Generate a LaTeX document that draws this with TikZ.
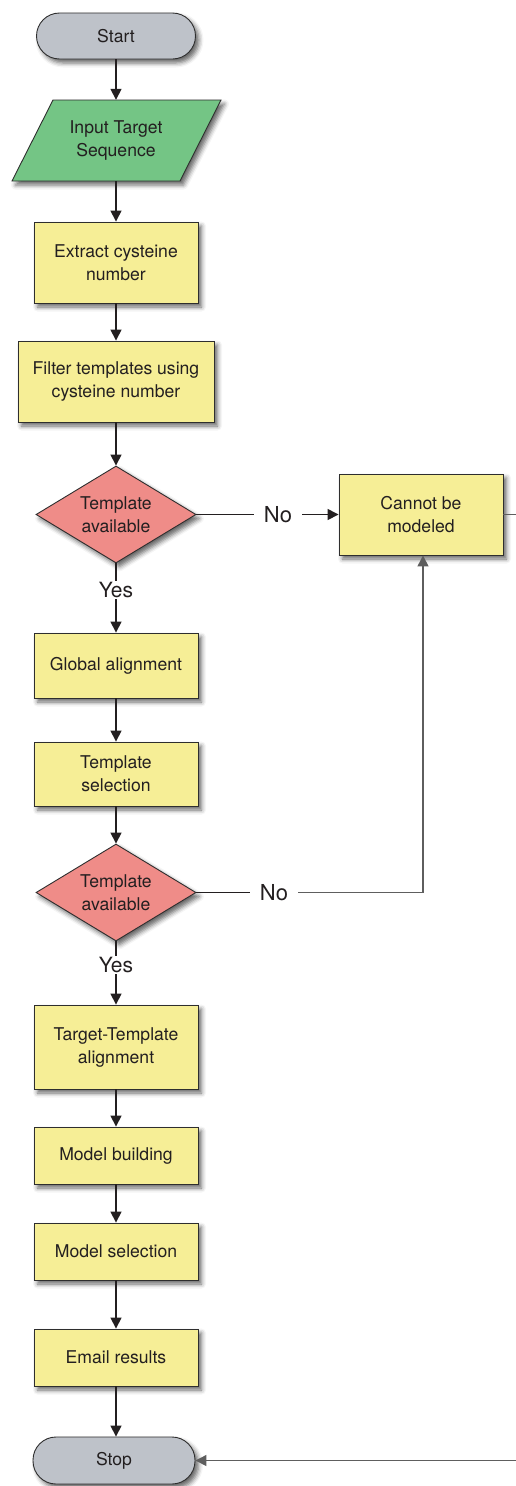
\documentclass[tikz,border=0pt]{standalone}
\usepackage{fontspec}
\setmainfont{TeX Gyre Heros}
\usetikzlibrary{arrows.meta,shapes.geometric,shadows.blur}
\definecolor{boxyellow}{HTML}{F6EE96}
\definecolor{ingreen}{HTML}{74C585}
\definecolor{decpink}{HTML}{EF8C88}
\definecolor{termgray}{HTML}{BEC2C9}
\definecolor{edgedark}{HTML}{2E2E2E}
\definecolor{txt}{HTML}{231F20}
\definecolor{backline}{HTML}{5E5E5E}
\begin{document}
\begin{tikzpicture}[x=1pt,y=-1pt,
  shade/.style={blur shadow={shadow xshift=3.5pt,shadow yshift=-4pt,shadow blur radius=4.5pt,shadow opacity=60}},
  basefont/.style={font=\fontsize{17.6}{23}\selectfont, text=txt, align=center},
  procbox/.style={basefont, shade, draw=edgedark, line width=0.9pt, fill=boxyellow, inner sep=0pt},
  termbox/.style={basefont, shade, draw=edgedark, line width=0.9pt, fill=termgray, rounded corners=23pt, inner sep=0pt},
  decbox/.style={basefont, shade, draw=edgedark, line width=0.9pt, fill=decpink, shape=diamond, aspect=1.65, inner sep=0pt, minimum width=160pt, minimum height=97pt},
  lbl/.style={font=\fontsize{22}{26}\selectfont, text=txt, inner xsep=10pt, inner ysep=1pt},
  ylbl/.style={font=\fontsize{21}{25}\selectfont, text=txt, inner xsep=2pt, inner ysep=1pt},
  flow/.style={draw=txt, line width=1.5pt, -{Triangle[length=11pt,width=11pt]}},
  plain/.style={draw=txt, line width=1.5pt},
  backarrow/.style={draw=backline, line width=1.3pt, -{Triangle[length=11pt,width=11pt]}}
]
\useasboundingbox (0,0) rectangle (515,1486);

% nodes
\node[termbox, minimum width=159pt, minimum height=46pt] (start) at (116,36) {Start};

\path[shade, fill=ingreen, draw=edgedark, line width=0.9pt]
  (53,100) -- (221,100) -- (180,181) -- (12,181) -- cycle;
\node[basefont, inner sep=0pt, minimum width=120pt, minimum height=81pt] (input) at (116,140.5) {Input Target\\Sequence};

\node[procbox, minimum width=164pt, minimum height=81pt] (box1) at (116,262.5) {Extract cysteine\\number};
\node[procbox, minimum width=196pt, minimum height=81pt] (box2) at (116,381.5) {Filter templates using\\cysteine number};
\node[decbox] (d1) at (116,514.5) {Template\\available};
\node[procbox, minimum width=164pt, minimum height=81pt] (cannot) at (421,514.5) {Cannot be\\modeled};
\node[lbl] (no1) at (278,514.5) {No};
\node[ylbl] (yes1) at (116,590) {Yes};
\node[procbox, minimum width=164pt, minimum height=65pt] (glob) at (116,665.5) {Global alignment};
\node[procbox, minimum width=164pt, minimum height=64pt] (tsel) at (116,774) {Template\\selection};
\node[decbox] (d2) at (116,892.5) {Template\\available};
\node[lbl] (no2) at (274,892.5) {No};
\node[ylbl] (yes2) at (116,965) {Yes};
\node[procbox, minimum width=164pt, minimum height=84pt] (tta) at (116,1047) {Target-Template\\alignment};
\node[procbox, minimum width=164pt, minimum height=57pt] (mb) at (116,1155.5) {Model building};
\node[procbox, minimum width=164pt, minimum height=57pt] (ms) at (116,1251.5) {Model selection};
\node[procbox, minimum width=164pt, minimum height=57pt] (em) at (116,1357.5) {Email results};
\node[termbox, minimum width=162pt, minimum height=47pt] (stop) at (114,1460.5) {Stop};

\coordinate (r1) at (522,514.5);
\coordinate (r2) at (522,1460.5);

% connectors
\draw[flow] (start.south) -- (input.north);
\draw[flow] (input.south) -- (box1.north);
\draw[flow] (box1.south) -- (box2.north);
\draw[flow] (box2.south) -- (d1.north);
\draw[plain] (d1.east) -- (no1.west);
\draw[flow] (no1.east) -- (cannot.west);
\draw[plain] (d1.south) -- (yes1.north);
\draw[flow] (yes1.south) -- (glob.north);
\draw[flow] (glob.south) -- (tsel.north);
\draw[flow] (tsel.south) -- (d2.north);
\draw[plain] (d2.east) -- (no2.west);
\draw[backarrow] (no2.east) -| ([xshift=2pt]cannot.south);
\draw[plain] (d2.south) -- (yes2.north);
\draw[flow] (yes2.south) -- (tta.north);
\draw[flow] (tta.south) -- (mb.north);
\draw[flow] (mb.south) -- (ms.north);
\draw[flow] (ms.south) -- (em.north);
\draw[flow] (em.south) -- (stop.north -| em.south);
\draw[backarrow] (cannot.east) -- (r1) -- (r2) -- (stop.east);
\end{tikzpicture}
\end{document}
